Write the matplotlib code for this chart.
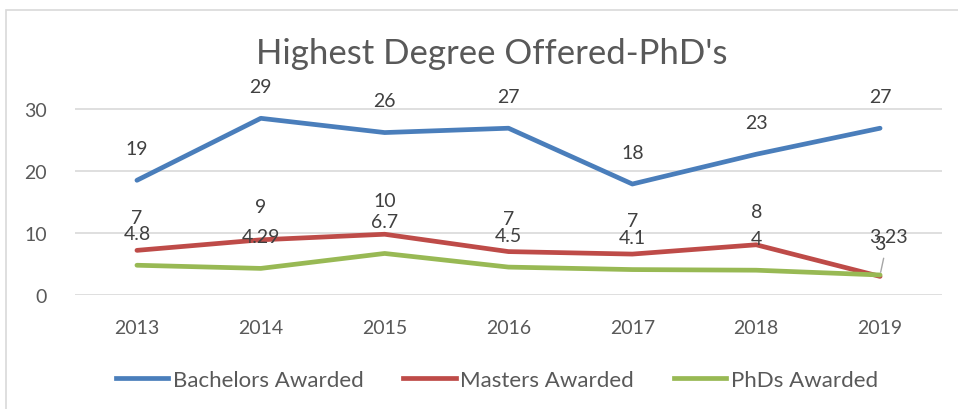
import matplotlib
matplotlib.use("Agg")
import matplotlib.pyplot as plt
from matplotlib.patches import Rectangle
from matplotlib.lines import Line2D

years = ["2013", "2014", "2015", "2016", "2017", "2018", "2019"]
bachelors = [18.5, 28.5, 26.2, 26.9, 17.9, 22.7, 26.9]
masters = [7.2, 8.9, 9.8, 7.0, 6.6, 8.1, 3.0]
phds = [4.8, 4.29, 6.7, 4.5, 4.1, 4.0, 3.23]
bachelors_labels = ["19", "29", "26", "27", "18", "23", "27"]
masters_labels = ["7", "9", "10", "7", "7", "8", "3"]
phds_labels = ["4.8", "4.29", "6.7", "4.5", "4.1", "4", "3.23"]

FONT = "Lato"
plt.rcParams["font.family"] = [FONT, "DejaVu Sans"]

W, H = 958, 410
fig = plt.figure(figsize=(W / 100, H / 100), dpi=100)
fig.patch.set_facecolor("white")

# chart border
fig.add_artist(Rectangle((6 / W, -0.1), 1.2, (H - 11) / H + 0.1, transform=fig.transFigure,
                         fill=False, edgecolor="#d9d9d9", linewidth=1.2))

ax = fig.add_axes([75 / W, (H - 296) / H, (942 - 75) / W, (296 - 79) / H])
x = list(range(len(years)))
c_b, c_m, c_p = "#4a7ebb", "#be4b48", "#98b954"
lw = 3.4
ax.plot(x, bachelors, color=c_b, lw=lw, solid_capstyle="round", solid_joinstyle="round", zorder=3)
ax.plot(x, masters, color=c_m, lw=lw, solid_capstyle="round", solid_joinstyle="round", zorder=3)
ax.plot(x, phds, color=c_p, lw=lw, solid_capstyle="round", solid_joinstyle="round", zorder=4)

ax.set_xlim(-0.5, 6.5)
ax.set_ylim(0, 35)
ax.set_yticks([0, 10, 20, 30])
ax.set_xticks(x)
ax.set_xticklabels(years)
ax.grid(axis="y", color="#d9d9d9", lw=1.2)
ax.set_axisbelow(True)
for s in ax.spines.values():
    s.set_visible(False)
ax.tick_params(length=0, labelsize=14, labelcolor="#595959")
ax.tick_params(axis="y", pad=20)
ax.tick_params(axis="x", pad=17)

lab_kw = dict(textcoords="offset points", ha="center", va="center", fontsize=14, color="#404040", zorder=5)
off = 23
for i in x:
    ax.annotate(bachelors_labels[i], (i, bachelors[i]), xytext=(0, off), **lab_kw)
    ax.annotate(masters_labels[i], (i, masters[i]), xytext=(0, off + 1), **lab_kw)
    if i == 6:
        ax.annotate(phds_labels[i], (i, phds[i]), xytext=(6, 28), **lab_kw,
                    arrowprops=dict(arrowstyle="-", color="#a6a6a6", lw=1, shrinkA=8, shrinkB=2))
    else:
        ax.annotate(phds_labels[i], (i, phds[i]), xytext=(0, off), **lab_kw)

fig.text(492 / W, (H - 54) / H, "Highest Degree Offered-PhD's", ha="center", va="center",
         fontsize=25, color="#595959")

handles = [Line2D([], [], color=c, lw=lw) for c in (c_b, c_m, c_p)]
fig.legend(handles, ["Bachelors Awarded", "Masters Awarded", "PhDs Awarded"],
           loc="center", bbox_to_anchor=(497 / W, (H - 381) / H), ncol=3, frameon=False,
           fontsize=16, labelcolor="#595959", handlelength=2.35, handletextpad=0.22,
           columnspacing=1.8)

fig.savefig("out.png", dpi=100, facecolor="white")
